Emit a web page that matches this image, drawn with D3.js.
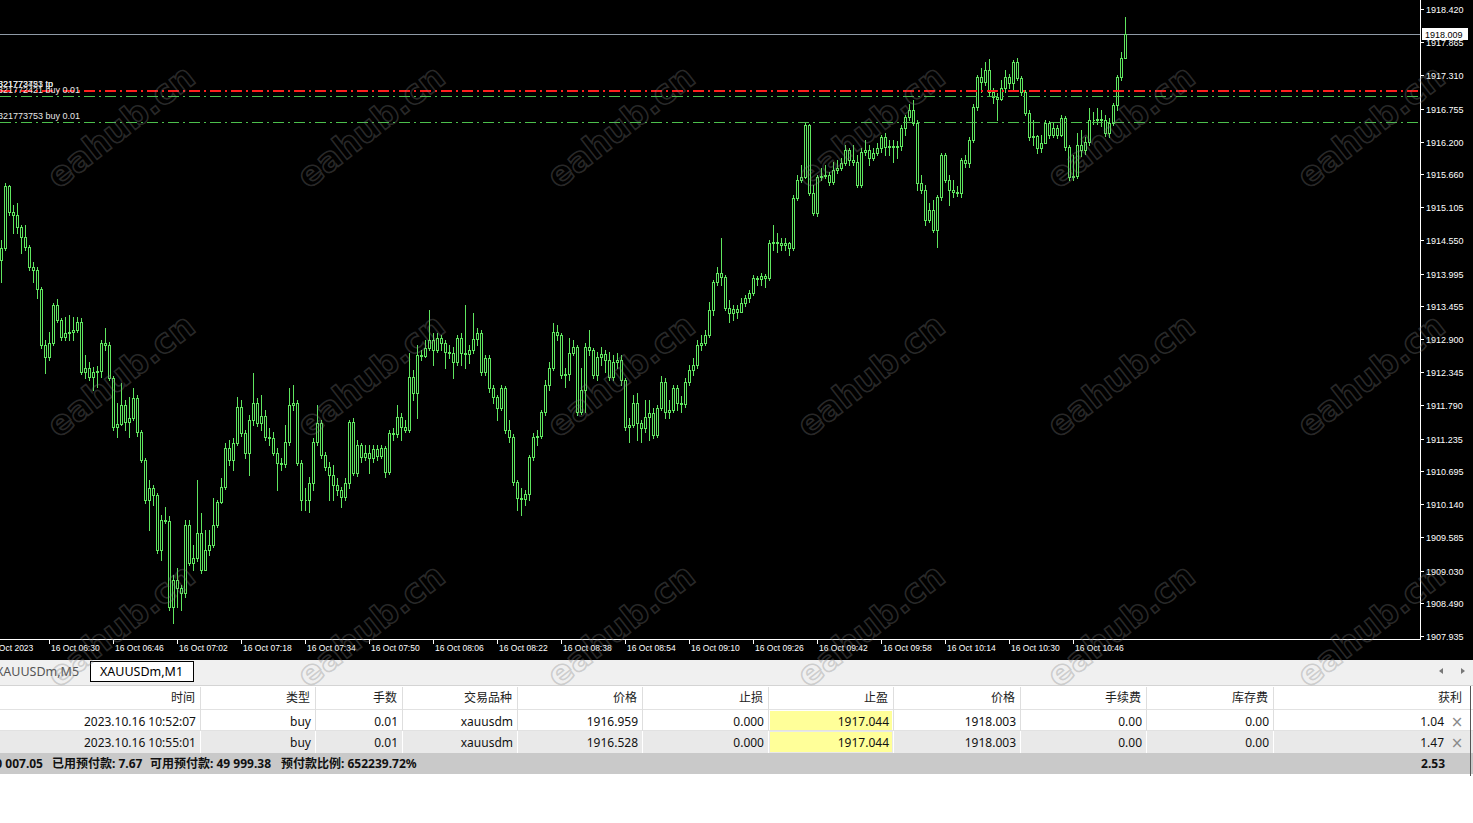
<!DOCTYPE html>
<html>
<head>
<meta charset="utf-8">
<script src="https://cdn.jsdelivr.net/npm/d3@7"></script>
<style>
  body { margin: 0; background: #fff; overflow: hidden; }
  svg { display: block; }
</style>
</head>
<body>
<div id="chart"></div>
<script>
// XAUUSDm M1, one bar per minute starting 06:18
const firstBarTime = "06:18";
const firstOpen = 1914.22;

const closes = [
  1914.42, 1915.46, 1915.03, 1914.98, 1914.77, 1914.61, 1914.44, 1914.11, 1914.06, 1913.74,
  1912.80, 1912.60, 1912.83, 1913.47, 1913.22, 1912.93, 1913.00, 1913.02, 1913.05, 1913.19,
  1912.35, 1912.42, 1912.27, 1912.35, 1912.37, 1912.83, 1912.80, 1912.25, 1911.43, 1911.48,
  1911.80, 1911.51, 1911.58, 1911.91, 1911.35, 1910.88, 1910.21, 1910.41, 1910.29, 1909.37,
  1909.87, 1909.86, 1908.42, 1908.87, 1908.74, 1908.65, 1909.79, 1909.16, 1909.24, 1909.66,
  1909.04, 1909.37, 1909.46, 1909.79, 1910.18, 1910.43, 1911.08, 1910.88, 1911.16, 1911.76,
  1911.33, 1911.00, 1911.55, 1911.83, 1911.50, 1911.61, 1911.26, 1911.25, 1911.00, 1910.83,
  1910.81, 1911.18, 1911.80, 1911.83, 1910.83, 1910.21, 1910.21, 1910.49, 1911.18, 1911.50,
  1910.96, 1910.76, 1910.63, 1910.46, 1910.38, 1910.26, 1910.49, 1911.51, 1910.66, 1911.13,
  1910.93, 1911.00, 1910.91, 1911.06, 1910.94, 1911.08, 1910.68, 1911.33, 1911.31, 1911.60,
  1911.43, 1911.38, 1912.27, 1912.00, 1912.63, 1912.62, 1912.75, 1912.88, 1912.72, 1912.92,
  1912.83, 1912.68, 1912.67, 1912.52, 1912.92, 1912.67, 1912.65, 1912.72, 1912.90, 1913.00,
  1912.35, 1912.58, 1912.08, 1911.93, 1911.75, 1912.08, 1911.38, 1911.26, 1910.51, 1910.24,
  1910.23, 1910.31, 1910.93, 1911.26, 1911.28, 1911.68, 1912.13, 1912.42, 1913.02, 1912.97,
  1912.30, 1912.32, 1912.67, 1912.77, 1911.68, 1912.05, 1912.77, 1912.72, 1912.30, 1912.60,
  1912.65, 1912.55, 1912.27, 1912.52, 1912.55, 1912.22, 1911.43, 1911.46, 1911.83, 1911.50,
  1911.41, 1911.60, 1911.66, 1911.30, 1911.75, 1912.18, 1911.68, 1911.71, 1912.08, 1911.83,
  1911.81, 1912.18, 1912.38, 1912.47, 1912.80, 1912.83, 1912.97, 1913.39, 1913.85, 1914.01,
  1913.94, 1913.42, 1913.34, 1913.40, 1913.35, 1913.50, 1913.59, 1913.67, 1913.92, 1913.91,
  1913.96, 1913.92, 1914.51, 1914.52, 1914.51, 1914.47, 1914.51, 1914.42, 1915.26, 1915.56,
  1915.61, 1916.48, 1915.34, 1915.01, 1915.61, 1915.63, 1915.64, 1915.53, 1915.73, 1915.76,
  1915.84, 1916.06, 1915.89, 1915.86, 1915.48, 1916.03, 1916.06, 1915.93, 1916.01, 1916.10,
  1916.28, 1916.11, 1916.13, 1916.11, 1916.13, 1916.43, 1916.61, 1916.73, 1916.51, 1915.51,
  1915.39, 1914.89, 1915.06, 1914.72, 1915.28, 1915.98, 1915.56, 1915.39, 1915.36, 1915.34,
  1915.90, 1915.84, 1916.23, 1916.78, 1917.28, 1917.20, 1917.40, 1917.03, 1916.95, 1916.91,
  1917.10, 1917.28, 1917.18, 1917.53, 1917.27, 1917.03, 1916.68, 1916.28, 1916.30, 1916.10,
  1916.18, 1916.51, 1916.31, 1916.43, 1916.31, 1916.60, 1916.11, 1915.61, 1915.63, 1916.15,
  1916.06, 1916.20, 1916.56, 1916.56, 1916.58, 1916.56, 1916.35, 1916.51, 1916.81, 1917.28,
  1917.60, 1918.01
];

const highs = [
  1914.56, 1915.51, 1915.48, 1915.14, 1915.18, 1914.81, 1914.81, 1914.47, 1914.19, 1914.11,
  1913.77, 1912.88, 1913.02, 1913.50, 1913.57, 1913.25, 1913.27, 1913.30, 1913.27, 1913.27,
  1913.25, 1912.63, 1912.52, 1912.43, 1912.45, 1912.88, 1913.09, 1912.85, 1912.28, 1911.83,
  1912.17, 1911.88, 1911.93, 1912.08, 1911.96, 1911.38, 1910.91, 1910.54, 1910.46, 1910.33,
  1909.96, 1910.09, 1909.94, 1908.96, 1909.07, 1908.79, 1909.87, 1909.87, 1909.46, 1910.54,
  1909.99, 1909.71, 1909.71, 1910.24, 1910.21, 1910.58, 1911.16, 1911.21, 1911.25, 1911.93,
  1911.88, 1911.38, 1911.63, 1912.33, 1911.91, 1911.96, 1911.71, 1911.41, 1911.35, 1911.08,
  1910.91, 1911.46, 1912.08, 1912.13, 1911.88, 1910.88, 1910.41, 1910.59, 1911.25, 1911.80,
  1911.55, 1911.01, 1910.84, 1910.79, 1910.58, 1910.43, 1910.58, 1911.55, 1911.58, 1911.21,
  1911.16, 1911.13, 1911.13, 1911.13, 1911.13, 1911.13, 1911.11, 1911.38, 1911.41, 1911.80,
  1911.66, 1911.55, 1912.67, 1912.38, 1912.80, 1912.72, 1912.88, 1913.39, 1913.00, 1913.00,
  1912.97, 1912.88, 1912.80, 1912.77, 1912.97, 1913.00, 1913.47, 1912.80, 1913.34, 1913.09,
  1913.05, 1912.63, 1912.63, 1912.13, 1911.96, 1912.13, 1912.12, 1911.55, 1911.31, 1910.54,
  1910.41, 1910.38, 1910.96, 1911.33, 1911.38, 1911.71, 1912.22, 1912.52, 1913.17, 1913.13,
  1913.00, 1912.42, 1912.92, 1912.88, 1912.80, 1912.42, 1912.83, 1913.05, 1912.75, 1912.68,
  1912.77, 1912.72, 1912.68, 1912.63, 1912.67, 1912.63, 1912.25, 1911.58, 1911.96, 1912.00,
  1911.55, 1911.88, 1911.88, 1911.75, 1911.80, 1912.28, 1912.25, 1911.88, 1912.13, 1912.13,
  1911.95, 1912.25, 1912.47, 1912.58, 1912.88, 1912.97, 1913.05, 1913.52, 1913.89, 1914.11,
  1914.59, 1913.97, 1913.55, 1913.47, 1913.47, 1913.59, 1913.64, 1913.72, 1913.97, 1913.96,
  1914.01, 1913.99, 1914.56, 1914.81, 1914.67, 1914.59, 1914.59, 1914.52, 1915.31, 1915.64,
  1915.81, 1916.53, 1916.50, 1915.48, 1915.64, 1915.76, 1915.81, 1915.69, 1915.86, 1915.90,
  1915.93, 1916.15, 1916.10, 1916.15, 1915.98, 1916.10, 1916.23, 1916.15, 1916.10, 1916.18,
  1916.31, 1916.35, 1916.23, 1916.23, 1916.21, 1916.48, 1916.65, 1916.83, 1916.90, 1916.56,
  1915.64, 1915.48, 1915.18, 1915.23, 1915.31, 1916.01, 1916.01, 1915.64, 1915.56, 1915.46,
  1915.93, 1915.98, 1916.28, 1916.83, 1917.32, 1917.43, 1917.53, 1917.58, 1917.10, 1917.01,
  1917.23, 1917.40, 1917.33, 1917.57, 1917.60, 1917.30, 1917.06, 1916.73, 1916.56, 1916.31,
  1916.31, 1916.56, 1916.55, 1916.53, 1916.48, 1916.65, 1916.63, 1916.15, 1915.98, 1916.35,
  1916.40, 1916.28, 1916.76, 1916.70, 1916.76, 1916.73, 1916.65, 1916.60, 1916.85, 1917.32,
  1917.70, 1918.29
];

const lows = [
  1913.85, 1914.39, 1914.98, 1914.67, 1914.67, 1914.34, 1914.39, 1914.06, 1913.85, 1913.59,
  1912.75, 1912.33, 1912.55, 1912.80, 1913.19, 1912.88, 1912.88, 1912.88, 1912.88, 1913.02,
  1912.32, 1912.25, 1912.22, 1912.05, 1912.10, 1912.27, 1912.72, 1912.22, 1911.38, 1911.26,
  1911.46, 1911.38, 1911.26, 1911.55, 1911.28, 1910.84, 1910.16, 1909.71, 1910.13, 1909.32,
  1909.21, 1909.83, 1908.37, 1908.15, 1908.42, 1908.37, 1908.59, 1909.12, 1909.04, 1909.19,
  1908.99, 1909.04, 1909.29, 1909.42, 1909.76, 1910.16, 1910.39, 1910.79, 1910.71, 1911.13,
  1911.28, 1910.91, 1910.63, 1911.46, 1911.45, 1911.38, 1911.21, 1911.13, 1910.96, 1910.38,
  1910.71, 1910.76, 1911.13, 1911.71, 1910.79, 1910.04, 1910.04, 1910.01, 1910.38, 1911.13,
  1910.91, 1910.71, 1910.21, 1910.21, 1910.29, 1910.09, 1910.21, 1910.41, 1910.63, 1910.61,
  1910.84, 1910.88, 1910.66, 1910.84, 1910.88, 1910.91, 1910.59, 1910.64, 1911.21, 1911.26,
  1911.21, 1911.35, 1911.35, 1911.88, 1911.58, 1912.55, 1912.60, 1912.72, 1912.47, 1912.68,
  1912.72, 1912.42, 1912.58, 1912.25, 1912.47, 1912.47, 1912.42, 1912.50, 1912.67, 1912.80,
  1912.30, 1912.30, 1912.01, 1911.83, 1911.55, 1911.71, 1911.33, 1911.18, 1910.46, 1910.04,
  1909.96, 1910.13, 1910.21, 1910.88, 1911.13, 1911.25, 1911.63, 1912.05, 1912.38, 1912.88,
  1912.25, 1912.10, 1912.22, 1912.63, 1911.63, 1911.65, 1911.68, 1912.63, 1912.25, 1912.22,
  1912.47, 1912.35, 1912.22, 1912.22, 1912.42, 1912.13, 1911.38, 1911.18, 1911.43, 1911.21,
  1911.18, 1911.35, 1911.21, 1911.25, 1911.26, 1911.71, 1911.58, 1911.58, 1911.68, 1911.71,
  1911.68, 1911.76, 1912.13, 1912.30, 1912.42, 1912.72, 1912.80, 1912.93, 1913.30, 1913.80,
  1913.80, 1913.39, 1913.19, 1913.22, 1913.25, 1913.39, 1913.45, 1913.52, 1913.64, 1913.80,
  1913.80, 1913.77, 1913.89, 1914.39, 1914.36, 1914.39, 1914.39, 1914.31, 1914.39, 1915.23,
  1915.53, 1915.59, 1915.31, 1914.98, 1914.96, 1915.56, 1915.59, 1915.48, 1915.49, 1915.68,
  1915.73, 1915.81, 1915.81, 1915.81, 1915.44, 1915.44, 1915.98, 1915.81, 1915.90, 1915.98,
  1916.03, 1915.98, 1915.98, 1915.86, 1915.93, 1916.06, 1916.31, 1916.56, 1916.48, 1915.39,
  1915.34, 1914.81, 1914.85, 1914.69, 1914.44, 1915.23, 1915.53, 1915.14, 1915.28, 1915.29,
  1915.28, 1915.78, 1915.78, 1916.20, 1916.73, 1917.03, 1917.15, 1916.98, 1916.85, 1916.56,
  1916.90, 1917.03, 1917.10, 1917.06, 1917.23, 1916.98, 1916.65, 1916.23, 1916.15, 1916.01,
  1916.03, 1916.18, 1916.26, 1916.28, 1916.26, 1916.30, 1916.06, 1915.56, 1915.56, 1915.59,
  1915.96, 1916.00, 1916.15, 1916.50, 1916.50, 1916.46, 1916.30, 1916.28, 1916.48, 1916.73,
  1917.23, 1917.60
];

const priceTicks = [
  1918.420, 1917.865, 1917.310, 1916.755, 1916.200, 1915.660, 1915.105, 1914.550, 1913.995, 1913.455,
  1912.900, 1912.345, 1911.790, 1911.235, 1910.695, 1910.140, 1909.585, 1909.030, 1908.490, 1907.935
];

const timeTicks = ["06:14", "06:30", "06:46", "07:02", "07:18", "07:34", "07:50", "08:06", "08:22",
  "08:38", "08:54", "09:10", "09:26", "09:42", "09:58", "10:14", "10:30", "10:46"];
const timeLabels = ["16 Oct 2023", "16 Oct 06:30", "16 Oct 06:46", "16 Oct 07:02", "16 Oct 07:18",
  "16 Oct 07:34", "16 Oct 07:50", "16 Oct 08:06", "16 Oct 08:22", "16 Oct 08:38", "16 Oct 08:54",
  "16 Oct 09:10", "16 Oct 09:26", "16 Oct 09:42", "16 Oct 09:58", "16 Oct 10:14", "16 Oct 10:30",
  "16 Oct 10:46"];

const bidPrice = 1918.009;
const tpPrice = 1917.044;
const orderTickets = ["321772421", "321773753"];
const orderPrices = [1916.959, 1916.528];

// terminal table
const tableHeaders = ["时间", "类型", "手数", "交易品种", "价格", "止损", "止盈", "价格", "手续费", "库存费", "获利"];
const tableRows = [
  ["2023.10.16 10:52:07", "buy", "0.01", "xauusdm", "1916.959", "0.000", "1917.044", "1918.003", "0.00", "0.00", "1.04"],
  ["2023.10.16 10:55:01", "buy", "0.01", "xauusdm", "1916.528", "0.000", "1917.044", "1918.003", "0.00", "0.00", "1.47"]
];
const summaryParts = ["0 007.05", "已用预付款: 7.67", "可用预付款: 49 999.38", "预付款比例: 652239.72%"];
const totalProfit = "2.53";
const tabNames = ["XAUUSDm,M5", "XAUUSDm,M1"];

const W = 1473, H = 823;
const plotRight = 1420, plotBottom = 639;
const candleColor = "#5fe65f";
const sans = "'Liberation Sans', Arial, sans-serif";
const uiFont = "'Noto Sans', 'Noto Sans CJK SC', sans-serif";

const svg = d3.select("#chart").append("svg")
  .attr("width", W).attr("height", H);

// chart background
svg.append("rect").attr("x", 0).attr("y", 0).attr("width", W).attr("height", 660).attr("fill", "#000");

const toMin = t => { const p = t.split(":"); return +p[0] * 60 + +p[1]; };
const startMin = toMin(firstBarTime);

const x = d3.scaleLinear().domain([0, closes.length - 1]).range([1, 1 + 4 * (closes.length - 1)]);
const y = d3.scaleLinear().domain([1907.935, 1918.420]).range([636, 9]);

const bars = closes.map((c, i) => ({
  i: i,
  open: i === 0 ? firstOpen : closes[i - 1],
  close: c,
  high: highs[i],
  low: lows[i]
}));

svg.append("clipPath").attr("id", "plotClip")
  .append("rect").attr("x", 0).attr("y", 0).attr("width", plotRight).attr("height", plotBottom);

const plot = svg.append("g").attr("clip-path", "url(#plotClip)").attr("shape-rendering", "crispEdges");

// bid line
plot.append("line")
  .attr("x1", 0).attr("x2", plotRight)
  .attr("y1", Math.round(y(bidPrice)) + 0.5).attr("y2", Math.round(y(bidPrice)) + 0.5)
  .attr("stroke", "#8f9aa6").attr("stroke-width", 1);

// candles
const candle = plot.selectAll(".candle")
  .data(bars)
  .enter()
  .append("g")
  .attr("class", "candle");

candle.append("line")
  .attr("x1", d => Math.round(x(d.i)) + 0.5)
  .attr("x2", d => Math.round(x(d.i)) + 0.5)
  .attr("y1", d => Math.round(y(Math.max(d.high, d.open, d.close))))
  .attr("y2", d => Math.round(y(Math.min(d.low, d.open, d.close))) + 1)
  .attr("stroke", candleColor);

candle.append("path")
  .attr("d", d => {
    const cx = Math.round(x(d.i));
    const top = Math.round(y(Math.max(d.open, d.close)));
    const bot = Math.round(y(Math.min(d.open, d.close)));
    return `M${cx - 0.5},${top + 0.5}h2v${bot - top}h-2Z`;
  })
  .attr("fill", "#000")
  .attr("stroke", candleColor);

// order lines (drawn over the candles)
plot.selectAll(".order-line")
  .data(orderPrices)
  .enter()
  .append("line")
  .attr("class", "order-line")
  .attr("x1", 0).attr("x2", plotRight)
  .attr("y1", d => Math.round(y(d)) + 0.5).attr("y2", d => Math.round(y(d)) + 0.5)
  .attr("stroke", "#4cbf4c").attr("stroke-width", 1)
  .attr("stroke-dasharray", "11,4,2,4");

plot.append("line")
  .attr("class", "tp-line")
  .attr("x1", 0).attr("x2", plotRight)
  .attr("y1", Math.round(y(tpPrice))).attr("y2", Math.round(y(tpPrice)))
  .attr("stroke", "#ff1e1e").attr("stroke-width", 2)
  .attr("stroke-dasharray", "11,4,2,4");

// order labels
const labelG = svg.append("g")
  .attr("font-family", sans).attr("font-size", 9).attr("fill", "#e6e6e6");

orderTickets.forEach(t => {
  labelG.append("text").attr("x", -2).attr("y", Math.round(y(tpPrice)) - 4).text(t + " tp");
});
orderTickets.forEach((t, k) => {
  labelG.append("text").attr("x", -2).attr("y", Math.round(y(orderPrices[k])) - 3).text(t + " buy 0.01");
});

// axes frame
svg.append("line").attr("x1", plotRight + 0.5).attr("x2", plotRight + 0.5)
  .attr("y1", 0).attr("y2", plotBottom + 1).attr("stroke", "#fff");
svg.append("line").attr("x1", 0).attr("x2", plotRight + 1)
  .attr("y1", plotBottom + 0.5).attr("y2", plotBottom + 0.5).attr("stroke", "#fff");

// price axis
const yAxis = svg.append("g").attr("font-family", sans).attr("font-size", 9).attr("fill", "#fff");
priceTicks.forEach(p => {
  const py = Math.round(y(p));
  yAxis.append("line").attr("x1", plotRight).attr("x2", plotRight + 4)
    .attr("y1", py + 0.5).attr("y2", py + 0.5).attr("stroke", "#fff");
  yAxis.append("text").attr("x", plotRight + 6).attr("y", py + 3.5).text(p.toFixed(3));
});

// bid price marker
const by = Math.round(y(bidPrice));
svg.append("rect").attr("x", plotRight + 2).attr("y", by - 6).attr("width", 46).attr("height", 12)
  .attr("fill", "#fff");
svg.append("text").attr("x", plotRight + 5).attr("y", by + 3.5)
  .attr("font-family", sans).attr("font-size", 9).attr("fill", "#000").text(bidPrice.toFixed(3));

// time axis
const xAxis = svg.append("g").attr("font-family", sans).attr("font-size", 8.5).attr("fill", "#fff");
timeTicks.forEach((t, k) => {
  const tx = Math.round(x(toMin(t) - startMin));
  xAxis.append("line").attr("x1", tx + 0.5).attr("x2", tx + 0.5)
    .attr("y1", plotBottom).attr("y2", plotBottom + 5).attr("stroke", "#fff");
  xAxis.append("text").attr("x", tx + 2).attr("y", 651).text(timeLabels[k]);
});

// ---- terminal panel ----
const panel = svg.append("g").attr("font-family", uiFont);

panel.append("rect").attr("x", 0).attr("y", 660).attr("width", W).attr("height", 26).attr("fill", "#f0f0f0");
panel.append("line").attr("x1", 0).attr("x2", W).attr("y1", 685.5).attr("y2", 685.5).attr("stroke", "#d4d4d4");

panel.append("text").attr("x", -4).attr("y", 676).attr("font-size", 12.5).attr("fill", "#555").text(tabNames[0]);
panel.append("rect").attr("x", 90.5).attr("y", 661.5).attr("width", 103).attr("height", 20)
  .attr("fill", "#fff").attr("stroke", "#000");
panel.append("text").attr("x", 100).attr("y", 676).attr("font-size", 12.5).attr("fill", "#000").text(tabNames[1]);

// scroll arrows
panel.append("path").attr("d", "M1439,671l4,-3v6Z").attr("fill", "#777");
panel.append("path").attr("d", "M1465,671l-4,-3v6Z").attr("fill", "#777");

const colRight = [200, 315, 402, 517, 642, 768, 893, 1020, 1146, 1273, 1470];
const rowTop = [686, 710, 731];
const rowH = [24, 21, 21];

// row backgrounds
panel.append("rect").attr("x", 0).attr("y", 686).attr("width", W).attr("height", 24).attr("fill", "#fff");
panel.append("rect").attr("x", 0).attr("y", 710).attr("width", W).attr("height", 21).attr("fill", "#fff");
panel.append("rect").attr("x", 0).attr("y", 731).attr("width", W).attr("height", 22).attr("fill", "#e9e9e9");
panel.append("rect").attr("x", 0).attr("y", 753).attr("width", W).attr("height", 21).attr("fill", "#c9c9c9");

// take-profit cells
tableRows.forEach((r, k) => {
  panel.append("rect").attr("x", colRight[5] + 2).attr("y", rowTop[k + 1] + 1)
    .attr("width", colRight[6] - colRight[5] - 3).attr("height", rowH[k + 1] - 1)
    .attr("fill", "#ffff99");
});

// grid lines
panel.append("line").attr("x1", 0).attr("x2", W).attr("y1", 709.5).attr("y2", 709.5).attr("stroke", "#e2e2e2");
panel.append("line").attr("x1", 0).attr("x2", W).attr("y1", 730.5).attr("y2", 730.5).attr("stroke", "#e2e2e2");
colRight.slice(0, -1).forEach(cx => {
  panel.append("line").attr("x1", cx + 0.5).attr("x2", cx + 0.5).attr("y1", 687).attr("y2", 731)
    .attr("stroke", "#dedede");
  panel.append("line").attr("x1", cx + 0.5).attr("x2", cx + 0.5).attr("y1", 731).attr("y2", 753)
    .attr("stroke", "#fff");
});
panel.append("line").attr("x1", 1470.5).attr("x2", 1470.5).attr("y1", 686).attr("y2", 776).attr("stroke", "#555");

// header
panel.selectAll(".hdr")
  .data(tableHeaders)
  .enter()
  .append("text")
  .attr("class", "hdr")
  .attr("x", (d, k) => k === tableHeaders.length - 1 ? 1462 : colRight[k] - 5)
  .attr("y", 702)
  .attr("text-anchor", "end")
  .attr("font-size", 12)
  .attr("fill", "#222")
  .text(d => d);

// data rows
tableRows.forEach((r, k) => {
  const ty = rowTop[k + 1] + 15.5;
  r.forEach((v, c) => {
    panel.append("text")
      .attr("x", c === r.length - 1 ? 1444 : colRight[c] - 4)
      .attr("y", ty)
      .attr("text-anchor", "end")
      .attr("font-size", 12)
      .attr("fill", "#111")
      .text(v);
  });
  panel.append("text").attr("x", 1457).attr("y", ty + 1).attr("text-anchor", "middle")
    .attr("font-family", "'DejaVu Sans', sans-serif")
    .attr("font-size", 15).attr("fill", "#8a8a8a").text("×");
});

// summary row
const sumX = [43, 52, 150, 281];
summaryParts.forEach((s, k) => {
  panel.append("text")
    .attr("x", sumX[k])
    .attr("y", 768)
    .attr("text-anchor", k === 0 ? "end" : "start")
    .attr("font-size", 12)
    .attr("font-weight", "bold")
    .attr("fill", "#111")
    .text(s);
});
panel.append("text").attr("x", 1445).attr("y", 768).attr("text-anchor", "end")
  .attr("font-size", 12).attr("font-weight", "bold").attr("fill", "#111").text(totalProfit);

// watermark
const wmRows = [128, 377, 627];
const wmCols = [122, 372, 622, 872, 1122, 1372];
const wm = svg.append("g").attr("pointer-events", "none");
wmRows.forEach(wy => {
  wmCols.forEach(wx => {
    wm.append("text")
      .attr("transform", `translate(${wx},${wy}) rotate(-38)`)
      .attr("text-anchor", "middle")
      .attr("dominant-baseline", "middle")
      .attr("font-family", "'DejaVu Sans', sans-serif")
      .attr("font-size", 34)
      .attr("font-weight", "bold")
      .attr("fill", "none")
      .attr("stroke", "rgba(128,128,128,0.33)")
      .attr("stroke-width", 1.6)
      .text("eahub.cn");
  });
});
</script>
</body>
</html>
